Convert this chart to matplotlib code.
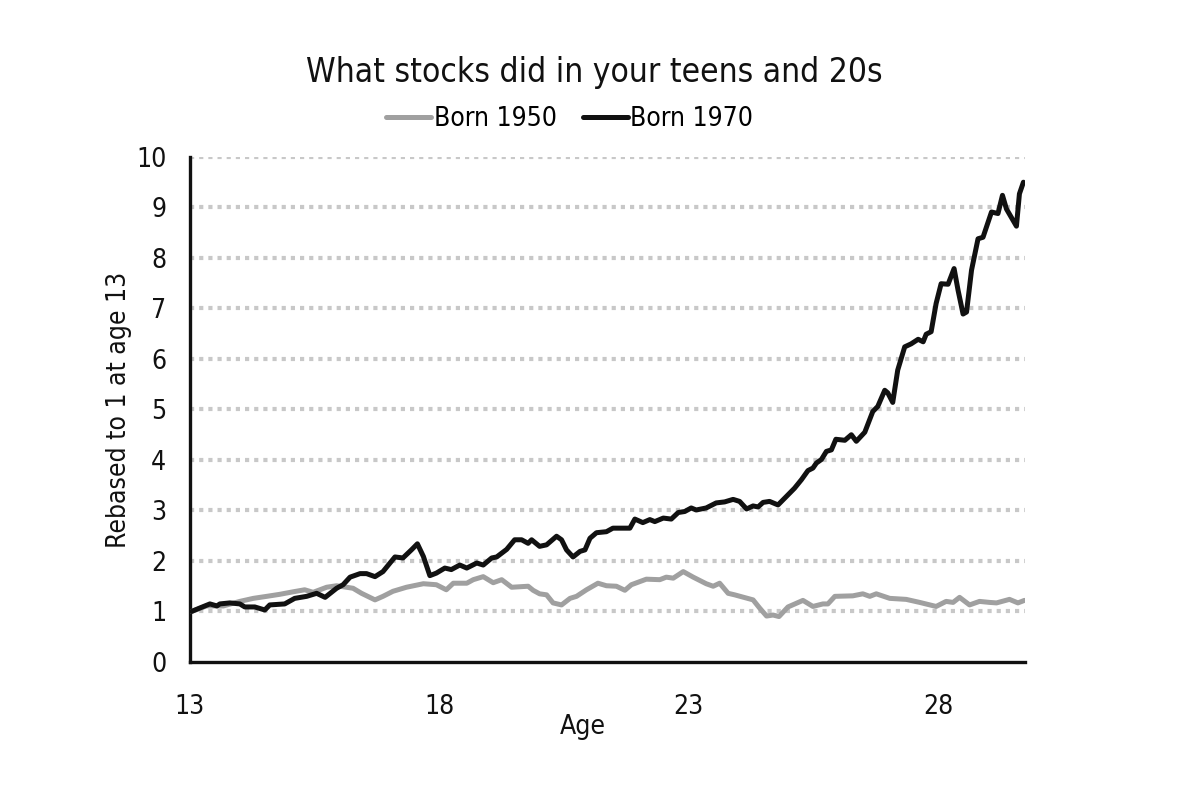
import numpy as np
import matplotlib
matplotlib.use("Agg")
import matplotlib.pyplot as plt

plt.rcParams['font.family'] = ['DejaVu Sans']
plt.rcParams['font.stretch'] = 'condensed'

# Born 1970 (black), ages and rebased values
age_1970 = [13.03, 13.20, 13.40, 13.54, 13.60, 13.80, 14.00, 14.10, 14.30, 14.50,
            14.60, 14.90, 15.10, 15.34, 15.54, 15.71, 15.94, 16.07, 16.21, 16.41,
            16.54, 16.71, 16.87, 17.11, 17.27, 17.44, 17.56, 17.68, 17.81, 17.94,
            18.11, 18.24, 18.41, 18.55, 18.75, 18.88, 19.05, 19.15, 19.35, 19.51,
            19.65, 19.78, 19.85, 20.01, 20.15, 20.35, 20.45, 20.55, 20.68, 20.82,
            20.92, 21.02, 21.15, 21.35, 21.48, 21.82, 21.92, 22.08, 22.22, 22.32,
            22.49, 22.65, 22.79, 22.92, 23.05, 23.15, 23.35, 23.55, 23.72, 23.89,
            24.02, 24.16, 24.29, 24.39, 24.49, 24.62, 24.79, 24.96, 25.12, 25.26,
            25.39, 25.49, 25.56, 25.66, 25.76, 25.86, 25.95, 26.13, 26.26, 26.36,
            26.53, 26.69, 26.79, 26.93, 26.99, 27.09, 27.19, 27.33, 27.46, 27.60,
            27.70, 27.76, 27.86, 27.96, 28.06, 28.20, 28.32, 28.40, 28.50, 28.57,
            28.67, 28.80, 28.90, 29.07, 29.20, 29.29, 29.37, 29.57, 29.63, 29.71]
val_1970 = [1.00, 1.07, 1.15, 1.11, 1.15, 1.17, 1.15, 1.09, 1.09, 1.03,
            1.13, 1.15, 1.26, 1.30, 1.36, 1.28, 1.46, 1.53, 1.68, 1.75,
            1.75, 1.69, 1.79, 2.08, 2.06, 2.22, 2.34, 2.09, 1.71, 1.76,
            1.86, 1.83, 1.92, 1.86, 1.96, 1.92, 2.06, 2.08, 2.23, 2.42,
            2.42, 2.35, 2.42, 2.29, 2.32, 2.49, 2.42, 2.22, 2.08, 2.19,
            2.22, 2.45, 2.56, 2.58, 2.65, 2.65, 2.83, 2.76, 2.82, 2.78,
            2.85, 2.83, 2.96, 2.98, 3.05, 3.01, 3.05, 3.15, 3.17, 3.22,
            3.18, 3.03, 3.09, 3.07, 3.16, 3.18, 3.11, 3.28, 3.44, 3.61,
            3.79, 3.84, 3.94, 4.01, 4.17, 4.20, 4.41, 4.39, 4.50, 4.37,
            4.55, 4.96, 5.06, 5.38, 5.33, 5.14, 5.78, 6.24, 6.30, 6.39,
            6.34, 6.49, 6.54, 7.10, 7.49, 7.48, 7.79, 7.36, 6.89, 6.93,
            7.76, 8.38, 8.41, 8.91, 8.88, 9.24, 8.97, 8.63, 9.27, 9.50]

# Born 1950 (grey)
age_1950 = [13.03, 13.33, 13.67, 14.00, 14.27, 14.54, 14.80, 15.07, 15.30, 15.47,
            15.74, 15.94, 16.14, 16.27, 16.44, 16.71, 16.87, 17.07, 17.34, 17.68,
            17.94, 18.14, 18.28, 18.55, 18.68, 18.88, 19.08, 19.25, 19.45, 19.78,
            19.88, 20.01, 20.15, 20.28, 20.45, 20.62, 20.75, 20.95, 21.18, 21.35,
            21.55, 21.72, 21.85, 22.15, 22.42, 22.55, 22.69, 22.89, 23.09, 23.35,
            23.49, 23.62, 23.79, 23.92, 24.29, 24.42, 24.56, 24.69, 24.81, 24.99,
            25.29, 25.49, 25.69, 25.79, 25.93, 26.29, 26.49, 26.63, 26.76, 27.03,
            27.36, 27.63, 27.96, 28.16, 28.30, 28.43, 28.63, 28.83, 29.03, 29.17,
            29.43, 29.60, 29.73]
val_1950 = [1.00, 1.11, 1.11, 1.20, 1.26, 1.30, 1.34, 1.39, 1.43, 1.38,
            1.48, 1.51, 1.48, 1.46, 1.36, 1.23, 1.30, 1.40, 1.48, 1.55,
            1.53, 1.43, 1.56, 1.56, 1.63, 1.69, 1.57, 1.63, 1.48, 1.50,
            1.42, 1.35, 1.33, 1.17, 1.13, 1.26, 1.30, 1.43, 1.56, 1.51,
            1.50, 1.42, 1.53, 1.64, 1.63, 1.68, 1.66, 1.79, 1.68, 1.55,
            1.50, 1.56, 1.36, 1.33, 1.23, 1.07, 0.91, 0.93, 0.90, 1.09,
            1.22, 1.10, 1.15, 1.15, 1.30, 1.31, 1.35, 1.30, 1.35, 1.26,
            1.24, 1.18, 1.10, 1.20, 1.18, 1.28, 1.13, 1.20, 1.18, 1.17,
            1.24, 1.17, 1.22]

age_ticks = [13, 18, 23, 28]
y_ticks = list(range(0, 11))

fig = plt.figure(figsize=(11.82, 8), dpi=100)
ax = fig.add_axes([0.1607, 0.1725, 0.7064, 0.6313])

ax.plot(age_1950, val_1950, color='#a0a0a0', lw=3.6, label='Born 1950',
        solid_joinstyle='round', solid_capstyle='round', zorder=3)
ax.plot(age_1970, val_1970, color='#111111', lw=3.6, label='Born 1970',
        solid_joinstyle='round', solid_capstyle='round', zorder=4)

ax.set_xlim(13, 29.74)
ax.set_ylim(0, 10)
ax.set_yticks(y_ticks)
ax.set_xticks(age_ticks)
ax.tick_params(axis='both', length=0, labelsize=19, colors='#111111')
ax.tick_params(axis='x', pad=23)
ax.tick_params(axis='y', pad=17)

for v in y_ticks[1:]:
    ax.axhline(v, color='#c8c8c8', lw=3, ls=(0, (1, 1.2)), zorder=1)

for s in ['top', 'right']:
    ax.spines[s].set_visible(False)
for s in ['left', 'bottom']:
    ax.spines[s].set_linewidth(2.4)
    ax.spines[s].set_color('#111111')

ax.set_ylabel('Rebased to 1 at age 13', fontsize=19, color='#111111', labelpad=3)
ax.set_xlabel('Age', fontsize=19, color='#111111')
ax.xaxis.set_label_coords(0.47, -0.102)

fig.suptitle('What stocks did in your teens and 20s', fontsize=24, x=0.503, y=0.93, color='#111111')
fig.legend(loc='center', bbox_to_anchor=(0.482, 0.851), ncol=2, frameon=False,
           fontsize=19, handlelength=1.7, handletextpad=0.1, columnspacing=1.0)

fig.savefig('out.png', dpi=100, facecolor='white')
